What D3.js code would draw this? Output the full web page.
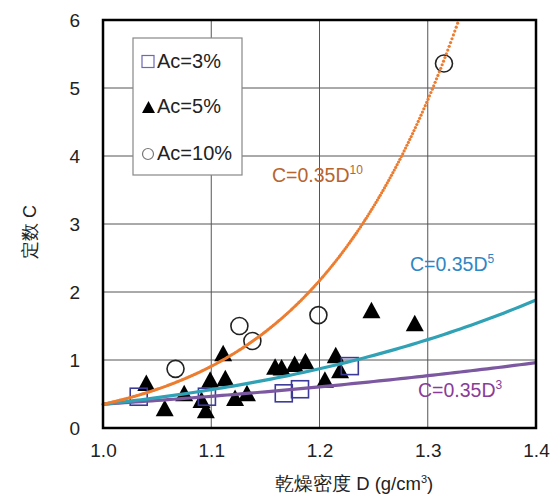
<!DOCTYPE html>
<html>
<head>
<meta charset="utf-8">
<script src="https://cdn.jsdelivr.net/npm/d3@7"></script>
<style>
  body { margin: 0; background: #fff; }
  text { font-family: "Liberation Sans", Arial, sans-serif; fill: #222; }
</style>
</head>
<body>
<div id="chart"></div>
<script>
// Ac=3% (squares)
const ac3D = [1.033, 1.096, 1.167, 1.182, 1.228]
const ac3C = [0.46, 0.46, 0.51, 0.57, 0.91]
// Ac=5% (triangles)
const ac5D = [1.040, 1.057, 1.075, 1.091, 1.095, 1.099, 1.111, 1.113, 1.122, 1.133,
              1.159, 1.165, 1.177, 1.187, 1.205, 1.215, 1.219, 1.248, 1.288]
const ac5C = [0.66, 0.29, 0.51, 0.41, 0.26, 0.71, 1.10, 0.73, 0.44, 0.51,
              0.90, 0.89, 0.94, 0.98, 0.71, 1.07, 0.85, 1.73, 1.54]
// Ac=10% (circles)
const ac10D = [1.067, 1.126, 1.138, 1.199, 1.315]
const ac10C = [0.87, 1.50, 1.28, 1.66, 5.36]

// fitted curves C = 0.35 D^n
const coef = 0.35
const exponents = [10, 5, 3]
const xTicks = [1.0, 1.1, 1.2, 1.3, 1.4]
const yTicks = [0, 1, 2, 3, 4, 5, 6]

const W = 555, H = 497
const margin = {top: 20, right: 19, bottom: 69, left: 103}
const width = W - margin.left - margin.right,
      height = H - margin.top - margin.bottom

const svg = d3.select('#chart').append('svg')
    .attr('width', W).attr('height', H)
const g = svg.append('g')
    .attr('transform', 'translate(' + margin.left + ',' + margin.top + ')')

const x = d3.scaleLinear().domain([1.0, 1.4]).range([0, width])
const y = d3.scaleLinear().domain([0, 6]).range([height, 0])

// grid
g.append('g').selectAll('line').data(xTicks.slice(1, -1)).enter().append('line')
    .attr('x1', d => x(d)).attr('x2', d => x(d)).attr('y1', 0).attr('y2', height)
    .attr('stroke', '#555').attr('stroke-width', 1)
g.append('g').selectAll('line').data(yTicks.slice(1, -1)).enter().append('line')
    .attr('y1', d => y(d)).attr('y2', d => y(d)).attr('x1', 0).attr('x2', width)
    .attr('stroke', '#555').attr('stroke-width', 1)

// axes (labels only)
const xAxis = g.append('g').attr('transform', 'translate(0,' + height + ')')
    .call(d3.axisBottom(x).tickValues(xTicks).tickFormat(d3.format('.1f')).tickSize(0).tickPadding(16))
const yAxis = g.append('g')
    .call(d3.axisLeft(y).tickValues(yTicks).tickFormat(d3.format('d')).tickSize(0).tickPadding(23))
xAxis.select('.domain').remove()
yAxis.select('.domain').remove()
g.selectAll('.tick text').style('font-size', '19px').attr('fill', '#222')

// markers
const tri = 'M0,-8.5L9,8L-9,8Z'
g.append('g').selectAll('path').data(ac5D).enter().append('path')
    .attr('d', tri)
    .attr('transform', (d, i) => 'translate(' + x(d) + ',' + y(ac5C[i]) + ')')
    .attr('fill', '#000')
g.append('g').selectAll('rect').data(ac3D).enter().append('rect')
    .attr('x', d => x(d) - 8.5).attr('y', (d, i) => y(ac3C[i]) - 8.5)
    .attr('width', 17).attr('height', 17)
    .attr('fill', 'none').attr('stroke', '#3c3a98').attr('stroke-width', 1.6)
g.append('g').selectAll('circle').data(ac10D).enter().append('circle')
    .attr('cx', d => x(d)).attr('cy', (d, i) => y(ac10C[i])).attr('r', 8.5)
    .attr('fill', 'none').attr('stroke', '#222').attr('stroke-width', 1.6)

// curves
function curvePts(n, step) {
    let pts = []
    for (let D = 1.0; D <= 1.4001; D += step) {
        let C = coef * Math.pow(D, n)
        if (C > 6) break
        pts.push([D, C])
    }
    return pts
}
const line = d3.line().x(d => x(d[0])).y(d => y(d[1]))
g.append('path').datum(curvePts(exponents[2], 0.005)).attr('d', line)
    .attr('fill', 'none').attr('stroke', '#7b58a0').attr('stroke-width', 3.2)
g.append('path').datum(curvePts(exponents[1], 0.005)).attr('d', line)
    .attr('fill', 'none').attr('stroke', '#31a2b6').attr('stroke-width', 3.2)
g.append('g').selectAll('circle').data(curvePts(exponents[0], 0.0013)).enter().append('circle')
    .attr('cx', d => x(d[0])).attr('cy', d => y(d[1])).attr('r', 1.6)
    .attr('fill', '#ec7d30')

// plot border
g.append('rect').attr('width', width).attr('height', height)
    .attr('fill', 'none').attr('stroke', '#000').attr('stroke-width', 2.5)

// curve labels
const labels = [
    {n: exponents[0], px: 272, py: 182, color: '#b8642e'},
    {n: exponents[1], px: 410, py: 271, color: '#2f86c4'},
    {n: exponents[2], px: 418, py: 397, color: '#8a3c98'}
]
labels.forEach(l => {
    let t = svg.append('text').attr('x', l.px).attr('y', l.py)
        .style('font-size', '19.5px').style('fill', l.color)
    t.append('tspan').text('C=0.35D')
    t.append('tspan').attr('dy', -8).style('font-size', '12px').text(l.n)
})

// legend
const lg = svg.append('g')
lg.append('rect').attr('x', 133).attr('y', 38).attr('width', 109).attr('height', 137)
    .attr('fill', '#fff').attr('stroke', '#888').attr('stroke-width', 1.2)
lg.append('rect').attr('x', 142).attr('y', 55.5).attr('width', 12).attr('height', 12)
    .attr('fill', 'none').attr('stroke', '#6a68b8').attr('stroke-width', 1.2)
lg.append('path').attr('d', 'M0,-6L6.5,6L-6.5,6Z')
    .attr('transform', 'translate(148.5,107)').attr('fill', '#000')
lg.append('circle').attr('cx', 148).attr('cy', 154).attr('r', 5.5)
    .attr('fill', 'none').attr('stroke', '#777').attr('stroke-width', 1.2)
const legendText = ['Ac=3%', 'Ac=5%', 'Ac=10%']
const legendY = [68, 113, 160]
lg.selectAll('text.lt').data(legendText).enter().append('text')
    .attr('x', 157).attr('y', (d, i) => legendY[i])
    .style('font-size', '20px').text(d => d)

// axis titles
svg.append('text').attr('x', 275).attr('y', 490)
    .style('font-size', '18.5px')
    .html('乾燥密度 D (g/cm<tspan dy="-7" font-size="11px">3</tspan><tspan dy="7">)</tspan>')
svg.append('text')
    .attr('transform', 'translate(36,232) rotate(-90)')
    .attr('text-anchor', 'middle')
    .style('font-size', '18px')
    .text('定数 C')
</script>
</body>
</html>
